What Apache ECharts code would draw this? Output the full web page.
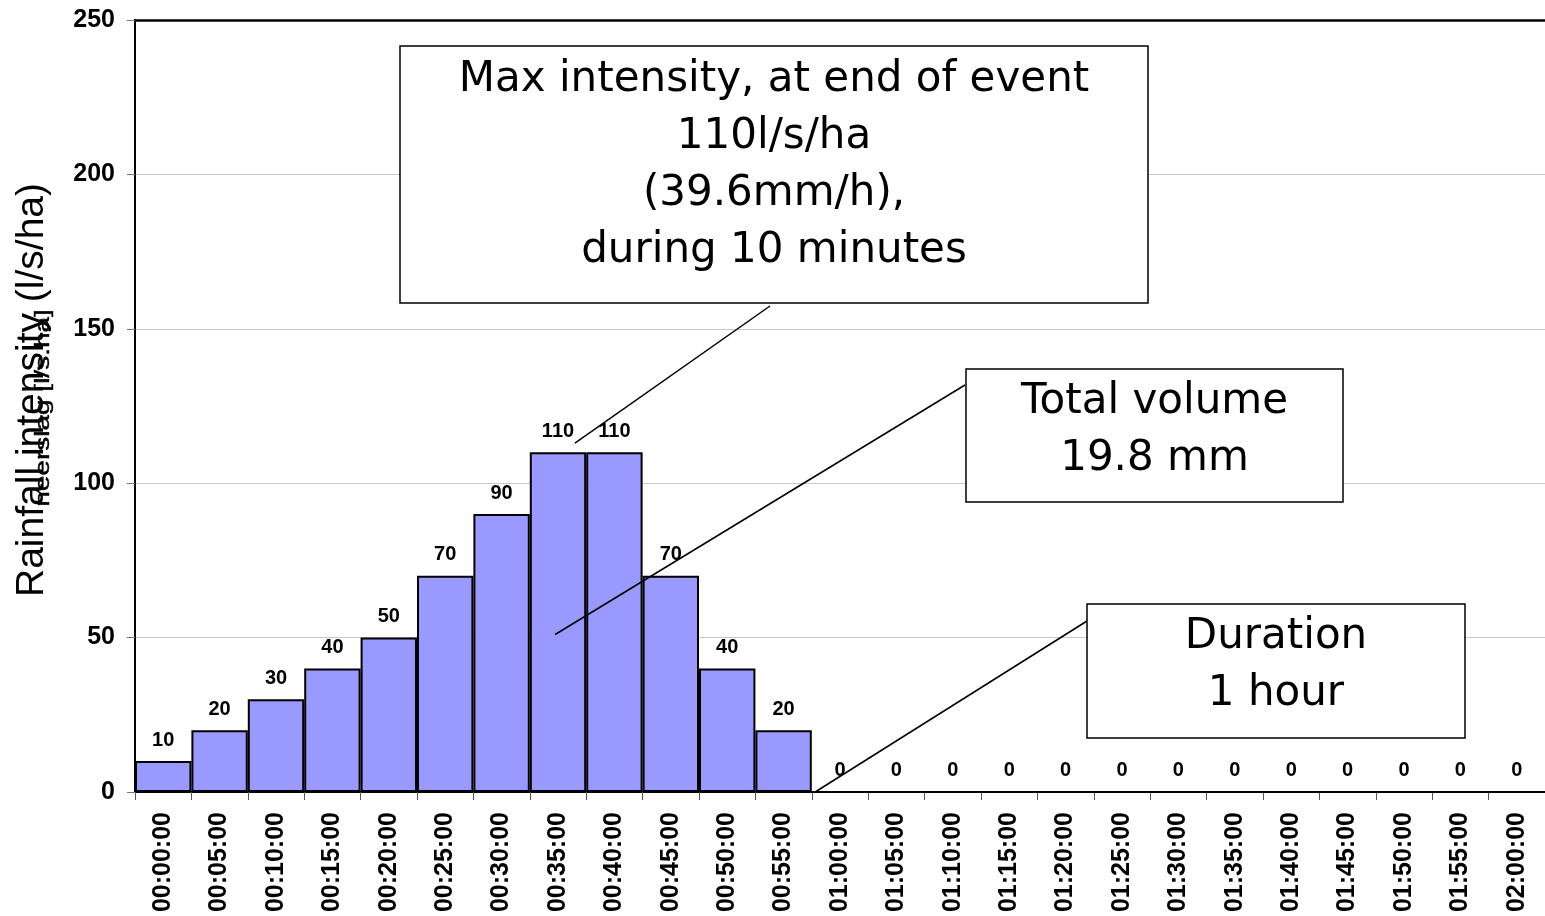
<!DOCTYPE html>
<html>
<head>
<meta charset="utf-8">
<script src="https://cdn.jsdelivr.net/npm/echarts@6/dist/echarts.min.js"></script>
<style>
  html, body { margin: 0; padding: 0; background: #fff; }
  #chart { width: 1545px; height: 916px; }
</style>
</head>
<body>
<div id="chart"></div>
<script>
// Time steps (5-minute blocks) and rainfall intensity per block (l/s/ha)
const timeSteps = [
  '00:00:00','00:05:00','00:10:00','00:15:00','00:20:00','00:25:00','00:30:00',
  '00:35:00','00:40:00','00:45:00','00:50:00','00:55:00','01:00:00','01:05:00',
  '01:10:00','01:15:00','01:20:00','01:25:00','01:30:00','01:35:00','01:40:00',
  '01:45:00','01:50:00','01:55:00','02:00:00'
];
const intensity = [10, 20, 30, 40, 50, 70, 90, 110, 110, 70, 40, 20, 0,
                   0, 0, 0, 0, 0, 0, 0, 0, 0, 0, 0, 0];
const yTicks = { min: 0, max: 250, interval: 50 };

// Callout texts and the point (fractional category, value) each leader line targets
const callouts = [
  { lines: ['Max intensity, at end of event', '110l/s/ha', '(39.6mm/h),', 'during 10 minutes'],
    box: [400, 46, 748, 257], firstLine: 80, from: [770, 306], to: [7.30, 113] },
  { lines: ['Total volume', '19.8 mm'],
    box: [966, 369, 377, 133], firstLine: 402, from: [965, 385], to: [6.95, 51] },
  { lines: ['Duration', '1 hour'],
    box: [1087, 604, 378, 134], firstLine: 637, from: [1087, 621], to: [11.56, 0] }
];

const chart = echarts.init(document.getElementById('chart'), null, { renderer: 'canvas' });

const boldNum = { fontFamily: 'Liberation Sans, Arial, sans-serif', fontWeight: 'bold', color: '#000' };

chart.setOption({
  animation: false,
  backgroundColor: '#fff',
  grid: { left: 135, top: 20, right: 0, bottom: 124, show: false },
  xAxis: [{
    type: 'category',
    data: timeSteps,
    boundaryGap: true,
    axisLine: { lineStyle: { color: '#000', width: 2 } },
    axisTick: { show: true, length: 8, lineStyle: { color: '#555', width: 1 } },
    axisLabel: Object.assign({ rotate: 90, fontSize: 25, margin: 20, interval: 0 }, boldNum),
    splitLine: { show: false }
  }, {
    // top frame line of the plot area
    type: 'category',
    data: timeSteps,
    position: 'top',
    axisLine: { show: true, lineStyle: { color: '#000', width: 2.5 } },
    axisTick: { show: false },
    axisLabel: { show: false },
    splitLine: { show: false }
  }],
  yAxis: {
    type: 'value',
    min: yTicks.min, max: yTicks.max, interval: yTicks.interval,
    axisLine: { show: true, lineStyle: { color: '#000', width: 2 } },
    axisTick: { show: true, length: 8, lineStyle: { color: '#777', width: 1 } },
    axisLabel: Object.assign({ fontSize: 25, margin: 20 }, boldNum),
    splitLine: { show: true, lineStyle: { color: '#c8c8c8', width: 1 } }
  },
  series: [{
    type: 'bar',
    data: intensity,
    barCategoryGap: '0%',
    itemStyle: { color: '#9999ff', borderColor: '#000', borderWidth: 2 },
    label: Object.assign({ show: true, position: 'top', distance: 11, fontSize: 20 }, boldNum)
  }]
});

// Annotation layer: axis titles, callout boxes and leader lines
function buildGraphics() {
  const c0 = chart.convertToPixel({ gridIndex: 0 }, [0, 0]);
  const c1 = chart.convertToPixel({ gridIndex: 0 }, [1, 0]);
  const band = c1[0] - c0[0];
  const toPx = (pos, val) => {
    const p = chart.convertToPixel({ gridIndex: 0 }, [0, val]);
    return [c0[0] + pos * band, p[1]];
  };

  const els = [
    {
      type: 'text', x: 32, y: 390, rotation: Math.PI / 2, z: 10,
      style: {
        text: 'Rainfall intensity (l/s/ha)', font: '39px "Liberation Sans", Arial, sans-serif',
        fill: '#000', textAlign: 'center', textVerticalAlign: 'middle'
      }
    },
    {
      type: 'text', x: 43, y: 408, rotation: Math.PI / 2, scaleY: 0.72, z: 11,
      style: {
        text: 'neerslag [l/s.ha]', font: '28px "Liberation Sans", Arial, sans-serif',
        fill: '#000', stroke: '#000', lineWidth: 0.6,
        textAlign: 'center', textVerticalAlign: 'middle'
      }
    }
  ];

  callouts.forEach((c) => {
    const end = toPx(c.to[0], c.to[1]);
    els.push({
      type: 'line', z: 20,
      shape: { x1: c.from[0], y1: c.from[1], x2: end[0], y2: end[1] },
      style: { stroke: '#000', lineWidth: 1.5 }
    });
    const [bx, by, bw, bh] = c.box;
    els.push({
      type: 'rect', z: 21,
      shape: { x: bx, y: by, width: bw, height: bh },
      style: { fill: '#fff', stroke: '#000', lineWidth: 1.5 }
    });
    const lh = 57;
    c.lines.forEach((t, i) => {
      els.push({
        type: 'text', z: 22, x: bx + bw / 2, y: c.firstLine + i * lh,
        style: {
          text: t, font: '42px "DejaVu Sans", Verdana, sans-serif', fill: '#000',
          textAlign: 'center', textVerticalAlign: 'middle'
        }
      });
    });
  });
  chart.setOption({ graphic: { elements: els } });
}
buildGraphics();
</script>
</body>
</html>
